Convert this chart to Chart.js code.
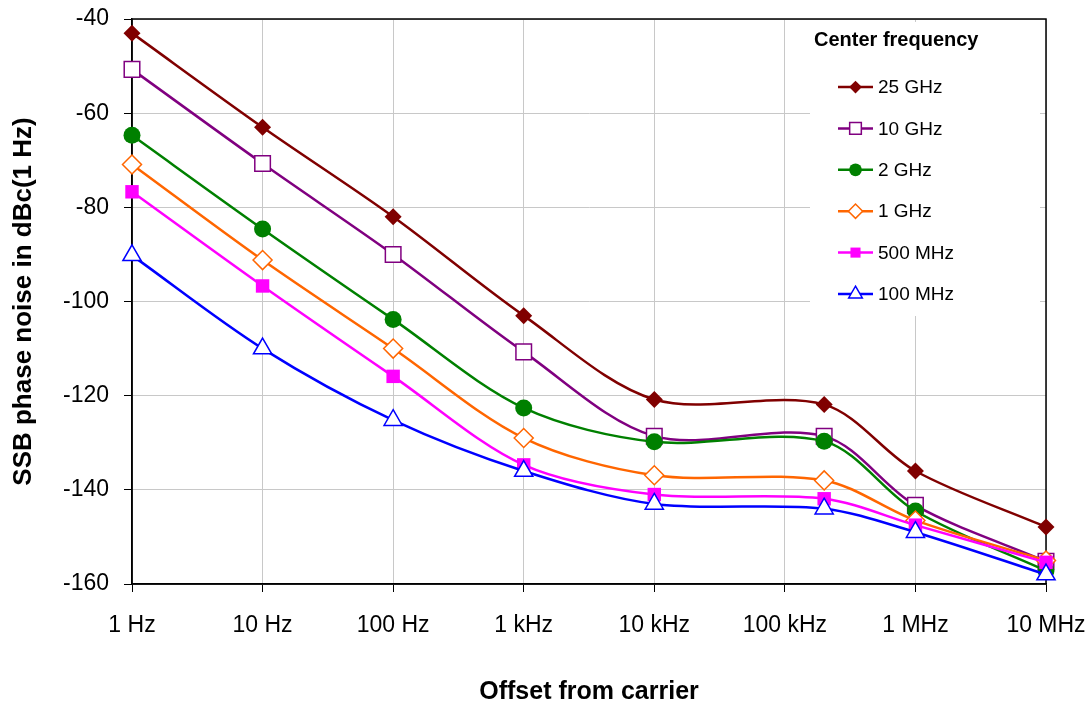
<!DOCTYPE html>
<html>
<head>
<meta charset="utf-8">
<script src="https://cdn.jsdelivr.net/npm/chart.js@4.4.1/dist/chart.umd.min.js"></script>
<style>
  body { margin: 0; background: #fff; }
  canvas { display: block; }
</style>
</head>
<body>
<canvas id="noiseChart" width="1091" height="705"></canvas>
<script>
// offsets from carrier (Hz) where the points were measured
const offsets = [1, 10, 100, 1000, 10000, 200000, 1000000, 10000000];
const tickVals = [1, 10, 100, 1000, 10000, 100000, 1000000, 10000000];
const tickLabels = ["1 Hz", "10 Hz", "100 Hz", "1 kHz", "10 kHz", "100 kHz", "1 MHz", "10 MHz"];

// SSB phase noise in dBc(1 Hz) per center frequency
const names = ["25 GHz", "10 GHz", "2 GHz", "1 GHz", "500 MHz", "100 MHz"];
const noise25G = [-43, -63, -82, -103, -120.8, -121.9, -136, -147.9];
const noise10G = [-50.7, -70.7, -90, -110.7, -128.6, -128.6, -143.3, -155.2];
const noise2G = [-64.7, -84.6, -103.8, -122.6, -129.8, -129.7, -144.5, -157.2];
const noise1G = [-70.9, -91.2, -110, -129, -136.9, -138, -146.5, -155];
const noise500M = [-76.7, -96.7, -115.9, -134.7, -141, -141.9, -147.5, -155.4];
const noise100M = [-90.2, -110, -125.2, -136, -143, -144, -149, -158];

const seriesValues = [noise25G, noise10G, noise2G, noise1G, noise500M, noise100M];
const colors = ["#800000", "#800080", "#008000", "#FF6600", "#FF00FF", "#0000FF"];
const markers = [
    { style: "rectRot", radius: 8.5, fill: true },
    { style: "rect", radius: 11, fill: false },
    { style: "circle", radius: 8.5, fill: true },
    { style: "rectRot", radius: 9.5, fill: false },
    { style: "rect", radius: 9.5, fill: true },
    { style: "triangle", radius: 10.5, fill: false }
];

const FONT = "'Liberation Sans', Arial, sans-serif";

const datasets = seriesValues.map(function (vals, i) {
    return {
        label: names[i],
        data: vals.map(function (v, j) { return { x: offsets[j], y: v }; }),
        borderColor: colors[i],
        borderWidth: 2.5,
        tension: 0.32,
        pointStyle: markers[i].style,
        pointRadius: markers[i].radius,
        pointHoverRadius: markers[i].radius,
        pointBackgroundColor: markers[i].fill ? colors[i] : "#ffffff",
        pointBorderColor: colors[i],
        pointBorderWidth: markers[i].fill ? 0 : 1.5,
        order: -i,
        clip: false
    };
});

// black frame around the plot area
const framePlugin = {
    id: "frame",
    beforeDatasetsDraw(chart) {
        const a = chart.chartArea;
        const ctx = chart.ctx;
        ctx.save();
        ctx.strokeStyle = "#000";
        ctx.lineWidth = 1.5;
        ctx.strokeRect(a.left, a.top, a.right - a.left, a.bottom - a.top);
        ctx.restore();
    }
};

// legend box inside the plot, top right
const legendPlugin = {
    id: "boxLegend",
    afterDraw(chart) {
        const ctx = chart.ctx;
        const a = chart.chartArea;
        ctx.save();
        ctx.fillStyle = "#fff";
        ctx.fillRect(810, a.top + 3, a.right - 816, 294);
        ctx.fillStyle = "#000";
        ctx.font = "bold 20px " + FONT;
        ctx.textBaseline = "middle";
        ctx.fillText("Center frequency", 814, 40);
        ctx.font = "19px " + FONT;
        chart.data.datasets.forEach(function (ds, i) {
            const y = 87 + i * 41.4;
            ctx.strokeStyle = ds.borderColor;
            ctx.lineWidth = 2.5;
            ctx.beginPath();
            ctx.moveTo(838, y);
            ctx.lineTo(873, y);
            ctx.stroke();
            ctx.fillStyle = ds.pointBackgroundColor;
            ctx.strokeStyle = ds.pointBorderColor;
            ctx.lineWidth = 1.5;
            Chart.helpers.drawPoint(ctx, {
                pointStyle: ds.pointStyle,
                radius: ds.pointRadius * 0.75,
                borderWidth: ds.pointBorderWidth,
                rotation: 0
            }, 855.5, y);
            ctx.fillStyle = "#000";
            ctx.fillText(ds.label, 878, y + 1);
        });
        ctx.restore();
    }
};

new Chart(document.getElementById("noiseChart").getContext("2d"), {
    type: "line",
    data: { datasets: datasets },
    options: {
        responsive: false,
        animation: false,
        events: [],
        layout: { padding: { top: 19, right: 45, left: 0, bottom: 0 } },
        plugins: {
            legend: { display: false },
            tooltip: { enabled: false }
        },
        scales: {
            x: {
                type: "logarithmic",
                min: 1,
                max: 10000000,
                afterBuildTicks: function (scale) {
                    scale.ticks = tickVals.map(function (v) { return { value: v }; });
                },
                afterFit: function (scale) {
                    scale.height = 121;
                    scale.paddingLeft = 0;
                    scale.paddingRight = 0;
                },
                ticks: {
                    autoSkip: false,
                    maxRotation: 0,
                    padding: 20,
                    color: "#000",
                    font: { family: FONT, size: 23 },
                    callback: function (value) {
                        return tickLabels[tickVals.indexOf(value)];
                    }
                },
                grid: { color: "#c8c8c8", lineWidth: 1, tickLength: 8, tickColor: "#000" },
                border: { display: true, color: "#000", width: 1.5 },
                title: {
                    display: true,
                    text: "Offset from carrier",
                    color: "#000",
                    font: { family: FONT, size: 25, weight: "bold", lineHeight: 1 },
                    padding: { top: 0, bottom: 0 }
                }
            },
            y: {
                min: -160,
                max: -40,
                afterFit: function (scale) {
                    scale.width = 132;
                    scale.paddingTop = 0;
                    scale.paddingBottom = 0;
                },
                ticks: {
                    stepSize: 20,
                    padding: 15,
                    color: "#000",
                    font: { family: FONT, size: 23 }
                },
                grid: { color: "#c8c8c8", lineWidth: 1, tickLength: 8, tickColor: "#000" },
                border: { display: true, color: "#000", width: 1.5 },
                title: {
                    display: true,
                    text: "SSB phase noise in dBc(1 Hz)",
                    color: "#000",
                    font: { family: FONT, size: 26, weight: "bold", lineHeight: 1 },
                    padding: { top: 11, bottom: 0 }
                }
            }
        }
    },
    plugins: [framePlugin, legendPlugin]
});
</script>
</body>
</html>
